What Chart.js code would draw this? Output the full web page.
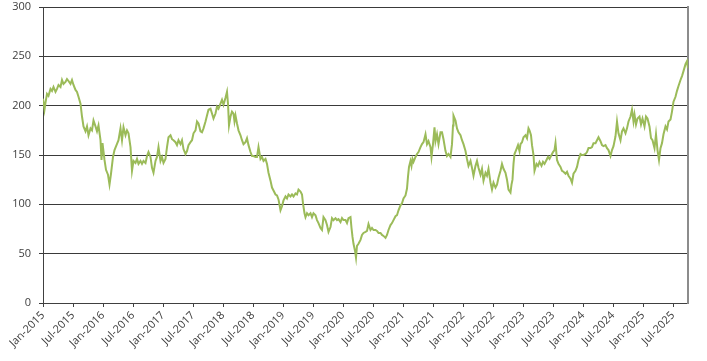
<!DOCTYPE html>
<html>
<head>
<meta charset="utf-8">
<script src="https://cdn.jsdelivr.net/npm/chart.js@4"></script>
<style>
    html, body { margin: 0; padding: 0; background: #fff; }
    #wrap { width: 707px; height: 361px; }
</style>
</head>
<body>
<div id="wrap"><canvas id="grafico" width="707" height="361"></canvas></div>
<script>
// months since Jan-2015
const months = [
    0, 0.3, 0.5, 0.8, 1.1, 1.5, 1.8, 2.1, 2.5, 2.8, 3.1, 3.5, 3.8, 4.1, 4.5, 4.8, 5.1, 5.5, 5.8, 6.1,
    6.5, 6.8, 7.1, 7.5, 7.8, 8.1, 8.5, 8.8, 9.1, 9.5, 9.8, 10.1, 10.5, 10.8, 11.1, 11.5, 11.7, 11.9, 12.3, 12.6,
    13.0, 13.3, 13.6, 14.0, 14.3, 14.7, 15.1, 15.5, 15.8, 16.1, 16.5, 16.8, 17.1, 17.5, 17.8, 18.1, 18.5, 18.8, 19.1, 19.5,
    19.8, 20.1, 20.5, 20.8, 21.1, 21.5, 21.8, 22.1, 22.5, 22.8, 23.1, 23.5, 23.8, 24.1, 24.5, 24.8, 25.1, 25.5, 25.8, 26.1,
    26.5, 26.8, 27.1, 27.5, 27.8, 28.1, 28.5, 28.8, 29.1, 29.5, 29.8, 30.1, 30.5, 30.8, 31.1, 31.5, 31.8, 32.1, 32.5, 32.8,
    33.1, 33.5, 33.8, 34.1, 34.5, 34.8, 35.1, 35.5, 35.8, 36.1, 36.5, 36.8, 37.0, 37.2, 37.5, 37.8, 38.1, 38.3, 38.5, 38.8,
    39.1, 39.5, 39.8, 40.1, 40.5, 40.8, 41.1, 41.5, 41.8, 42.1, 42.5, 42.8, 43.1, 43.5, 43.8, 44.1, 44.5, 44.8, 45.1, 45.5,
    45.8, 46.1, 46.5, 46.8, 47.1, 47.5, 47.8, 48.1, 48.5, 48.8, 49.1, 49.5, 49.8, 50.1, 50.5, 50.8, 51.1, 51.5, 51.8, 52.0,
    52.3, 52.5, 52.8, 53.1, 53.5, 53.8, 54.1, 54.5, 54.8, 55.1, 55.5, 55.8, 56.1, 56.5, 56.8, 57.1, 57.5, 57.8, 58.1, 58.5,
    58.8, 59.1, 59.5, 59.8, 60.1, 60.5, 60.8, 61.1, 61.5, 61.7, 61.9, 62.1, 62.4, 62.6, 62.8, 63.1, 63.5, 63.8, 64.1, 64.5,
    64.8, 65.1, 65.5, 65.8, 66.1, 66.5, 66.8, 67.1, 67.5, 67.8, 68.1, 68.5, 68.8, 69.1, 69.5, 69.8, 70.1, 70.5, 70.8, 71.1,
    71.5, 71.8, 72.1, 72.5, 72.8, 73.0, 73.2, 73.5, 73.7, 73.9, 74.1, 74.5, 74.8, 75.1, 75.5, 75.8, 76.1, 76.5, 76.8, 77.1,
    77.5, 77.7, 78.0, 78.3, 78.5, 78.8, 79.1, 79.5, 79.8, 80.1, 80.5, 80.8, 81.1, 81.5, 81.8, 82.0, 82.1, 82.5, 82.8, 83.1,
    83.5, 83.8, 84.1, 84.5, 84.8, 85.1, 85.5, 85.8, 86.1, 86.5, 86.8, 87.1, 87.5, 87.8, 88.1, 88.5, 88.8, 89.1, 89.5, 89.8,
    90.1, 90.5, 90.8, 91.1, 91.5, 91.8, 92.1, 92.5, 92.8, 93.1, 93.5, 93.7, 93.9, 94.1, 94.3, 94.7, 95.0, 95.3, 95.5, 95.8,
    96.1, 96.5, 96.8, 97.1, 97.3, 97.6, 97.8, 98.1, 98.3, 98.7, 99.0, 99.3, 99.7, 100.0, 100.3, 100.7, 101.0, 101.3, 101.7, 102.0,
    102.3, 102.5, 102.8, 103.1, 103.5, 103.8, 104.1, 104.5, 104.8, 105.1, 105.5, 105.8, 106.1, 106.5, 106.8, 107.1, 107.5, 107.8, 108.1, 108.5,
    108.8, 109.1, 109.5, 109.8, 110.1, 110.5, 110.8, 111.1, 111.5, 111.8, 112.1, 112.5, 112.8, 113.1, 113.5, 113.8, 114.1, 114.5, 114.8, 115.1,
    115.5, 115.8, 116.1, 116.5, 116.8, 117.1, 117.5, 117.8, 118.1, 118.3, 118.6, 118.9, 119.3, 119.6, 119.9, 120.3, 120.6, 120.9, 121.3, 121.6,
    121.9, 122.3, 122.6, 122.9, 123.2, 123.5, 123.8, 124.1, 124.5, 124.8, 125.1, 125.5, 125.8, 126.1, 126.5, 126.8, 127.1, 127.5, 127.8, 128.1,
    128.5, 128.8, 129.0
];

const values = [
    207, 196, 203, 212, 210, 217, 215, 219, 214, 217, 221, 219, 226, 222, 224, 227, 225, 222, 226, 221,
    216, 214, 209, 202, 189, 179, 174, 179, 170, 177, 175, 185, 179, 174, 180, 165, 145, 162, 145, 135,
    130, 120, 131, 148, 155, 160, 165, 177, 165, 178, 170, 175, 172, 158, 134, 144, 142, 146, 141, 144,
    141, 144, 142, 149, 153, 148, 137, 132, 144, 148, 158, 144, 148, 142, 146, 158, 168, 170, 166, 165,
    163, 160, 165, 161, 165, 156, 151, 154, 160, 163, 165, 172, 175, 184, 182, 174, 173, 177, 184, 190,
    196, 197, 192, 187, 192, 199, 197, 202, 206, 201, 208, 214, 202, 180, 189, 194, 192, 184, 190, 182,
    175, 170, 165, 161, 163, 167, 160, 153, 149, 149, 148, 148, 158, 146, 148, 144, 146, 141, 132, 124,
    117, 114, 110, 109, 105, 94, 98, 104, 108, 106, 110, 108, 110, 108, 111, 110, 115, 113, 110, 101,
    91, 87, 91, 89, 91, 87, 91, 89, 84, 81, 76, 74, 87, 84, 79, 72, 77, 86, 84, 86,
    84, 85, 82, 86, 84, 84, 81, 86, 87, 76, 67, 60, 53, 46, 58, 60, 64, 69, 71, 72,
    73, 80, 74, 76, 74, 74, 73, 71, 71, 69, 68, 66, 69, 74, 79, 81, 84, 88, 89, 94,
    99, 101, 106, 109, 116, 128, 138, 144, 139, 146, 143, 148, 151, 153, 158, 161, 163, 171, 161, 164,
    158, 148, 161, 178, 164, 171, 161, 173, 173, 166, 154, 149, 151, 148, 161, 180, 190, 185, 177, 173,
    170, 165, 161, 154, 146, 139, 144, 137, 129, 139, 144, 137, 130, 136, 124, 132, 129, 136, 122, 115,
    122, 117, 120, 127, 134, 141, 136, 132, 125, 115, 112, 120, 125, 141, 151, 156, 160, 154, 161, 163,
    168, 170, 167, 177, 175, 170, 160, 150, 134, 141, 139, 143, 139, 143, 141, 145, 148, 146, 150, 153,
    155, 162, 145, 141, 138, 134, 133, 131, 133, 129, 126, 122, 131, 134, 138, 145, 151, 150, 150, 151,
    153, 157, 157, 158, 162, 162, 165, 168, 164, 160, 159, 160, 157, 155, 149, 155, 159, 169, 184, 172,
    165, 174, 177, 172, 177, 184, 189, 196, 184, 191, 181, 187, 189, 181, 187, 179, 189, 187, 179, 167,
    165, 157, 171, 155, 145, 157, 162, 171, 179, 176, 184, 186, 194, 204, 209, 215, 220, 226, 230, 235,
    242, 245, 238
];

const tickLabels = [
    "Jan-2015", "Jul-2015", "Jan-2016", "Jul-2016", "Jan-2017", "Jul-2017", "Jan-2018", "Jul-2018",
    "Jan-2019", "Jul-2019", "Jan-2020", "Jul-2020", "Jan-2021", "Jul-2021", "Jan-2022", "Jul-2022",
    "Jan-2023", "Jul-2023", "Jan-2024", "Jul-2024", "Jan-2025", "Jul-2025"
];

const yTicks = [0, 50, 100, 150, 200, 250, 300];

document.addEventListener("DOMContentLoaded", function () {
    const puntos = months.map((m, i) => ({x: m, y: values[i]}));
    const fuente = {family: "'Open Sans', sans-serif", size: 11};

    new Chart(document.getElementById("grafico"), {
        type: "line",
        data: {
            datasets: [{
                data: puntos,
                borderColor: "#9bbb59",
                borderWidth: 2,
                pointRadius: 0,
                tension: 0,
                fill: false
            }]
        },
        options: {
            responsive: false,
            animation: false,
            layout: {padding: {top: 7, right: 19, bottom: 0, left: 0}},
            plugins: {legend: {display: false}, tooltip: {enabled: false}},
            scales: {
                x: {
                    type: "linear",
                    min: 0,
                    max: 129,
                    afterBuildTicks: axis => {
                        axis.ticks = tickLabels.map((t, i) => ({value: i * 6}));
                    },
                    afterFit: axis => { axis.height = 58; },
                    ticks: {
                        autoSkip: false,
                        maxRotation: 45,
                        minRotation: 45,
                        padding: 2,
                        color: "#404040",
                        font: fuente,
                        callback: v => tickLabels[v / 6]
                    },
                    grid: {drawOnChartArea: false, drawTicks: true, tickLength: 4, color: "#404040"},
                    border: {display: true, color: "#404040", width: 1}
                },
                y: {
                    min: 0,
                    max: 300,
                    afterBuildTicks: axis => {
                        axis.ticks = yTicks.map(v => ({value: v}));
                    },
                    afterFit: axis => {
                        axis.width = 43;
                        axis.paddingTop = 0;
                    },
                    ticks: {color: "#404040", font: fuente, padding: 8},
                    grid: {color: "#3a3a3a", lineWidth: 1, drawTicks: true, tickLength: 4},
                    border: {display: true, color: "#404040", width: 1}
                },
                y2: {
                    position: "right",
                    min: 0,
                    max: 300,
                    afterFit: axis => { axis.width = 0; },
                    ticks: {display: false},
                    grid: {drawOnChartArea: false, drawTicks: false},
                    border: {display: true, color: "#8c8c8c", width: 2}
                }
            }
        }
    });
});
</script>
</body>
</html>
